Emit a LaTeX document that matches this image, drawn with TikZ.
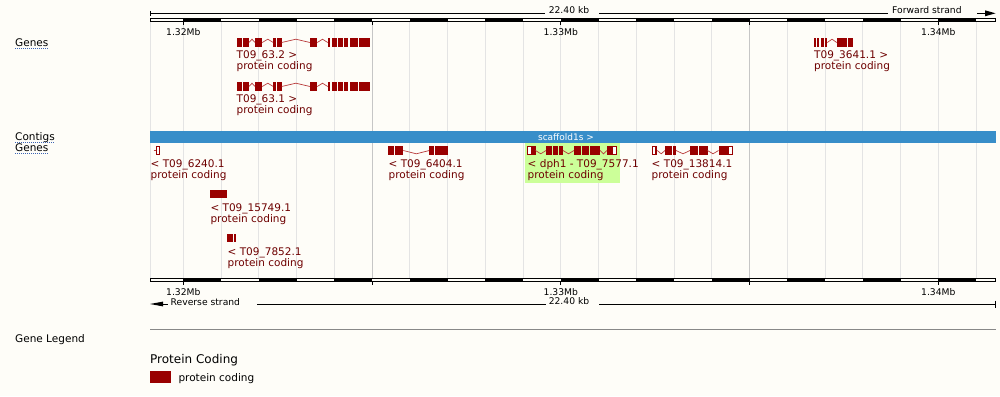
\documentclass[tikz,border=0pt]{standalone}
\usepackage{fontspec}
\setmainfont{DejaVu Sans}
\definecolor{bgc}{RGB}{254,253,248}
\definecolor{exonc}{RGB}{153,0,0}
\definecolor{labc}{RGB}{110,0,0}
\definecolor{intc}{RGB}{185,60,60}
\definecolor{gridl}{RGB}{228,228,228}
\definecolor{gridd}{RGB}{198,198,198}
\definecolor{contigc}{RGB}{56,142,201}
\definecolor{hilite}{RGB}{204,255,153}
\definecolor{ulc}{RGB}{60,100,180}
\definecolor{sepc}{RGB}{136,136,136}
\newcommand\exonbox[2]{\fill[exonc] (#1,0) rectangle (#2,8.4);}
\newcommand\utrbox[2]{\draw[utr] (#1,0.5) rectangle (#2,7.9);}
\newcommand\intronup[2]{\draw[intron] (#1,4.2) -- ({(#1+#2)/2},0.9) -- (#2,4.2);}
\newcommand\introndn[2]{\draw[intron] (#1,4.2) -- ({(#1+#2)/2},7.5) -- (#2,4.2);}
\begin{document}
\begin{tikzpicture}[x=1pt,y=-1pt,
  lab/.style={anchor=base west, inner sep=0, font=\fontsize{10.5}{12}\selectfont, text=labc},
  tracklab/.style={anchor=base west, inner sep=0, font=\fontsize{10.5}{12}\selectfont, text=black},
  scalelab/.style={anchor=base, inner sep=0, font=\fontsize{9.2}{10}\selectfont, text=black},
  utr/.style={draw=exonc, fill=white, line width=1pt},
  intron/.style={draw=intc, line width=0.7pt},
  ul/.style={draw=ulc, line width=0.8pt, dash pattern=on 1pt off 1pt}]
\fill[bgc] (0,0) rectangle (1000,396);
\useasboundingbox (0,0) rectangle (1000,396);

% grid
\draw[gridl, line width=0.8pt] (150,21.3) -- (150,278.3);
\foreach \k in {0,...,21} {
  \draw[gridl, line width=0.8pt] ({183.3+37.75*\k},21.3) -- ({183.3+37.75*\k},278.3);
}
\draw[gridd, line width=0.8pt] (372.05,21.3) -- (372.05,278.3);
\draw[gridd, line width=0.8pt] (749.55,21.3) -- (749.55,278.3);

% rulers
\foreach \yy in {18.3,278.3} {
  \draw[black, line width=0.8pt] (150.4,\yy+0.4) rectangle (995.5,\yy+3.0);
  \foreach \k in {0,2,...,20} {
    \fill[black] ({183.3+37.75*\k},\yy) rectangle ({183.3+37.75*\k+37.75},\yy+3.4);
  }
}
\foreach \xx in {183.3,372.05,560.8,749.55,938.3} {
  \draw[black, line width=0.8pt] (\xx,21.5) -- (\xx,24.6);
  \draw[black, line width=0.8pt] (\xx,281.5) -- (\xx,285);
}
\node[scalelab] (t132) at (183.3,36) {1.32Mb};
\node[scalelab] (t133) at (560.8,36) {1.33Mb};
\node[scalelab] (t134) at (938.3,36) {1.34Mb};
\node[scalelab] (b132) at (183.3,295.7) {1.32Mb};
\node[scalelab] (b133) at (560.8,295.7) {1.33Mb};
\node[scalelab] (b134) at (938.3,295.7) {1.34Mb};

% top scale line
\draw[black, line width=0.8pt] (150,11) -- (150,15.7);
\draw[black, line width=0.8pt] (150,13.3) -- (545,13.3);
\node[scalelab] (tkb) at (569,14) {22.40 kb};
\draw[black, line width=0.8pt] (599,13.3) -- (888,13.3);
\node[scalelab, anchor=base west] (fwd) at (892,14) {Forward strand};
\draw[black, line width=0.8pt] (977,13.3) -- (986,13.3);
\fill[black] (985,10.3) -- (995.5,13.3) -- (985,16.3) -- cycle;

% bottom scale line
\fill[black] (150,304) -- (163,301.6) -- (163,306.4) -- cycle;
\draw[black, line width=0.8pt] (162,304) -- (168,304);
\node[scalelab, anchor=base west] (rev) at (170.5,305) {Reverse strand};
\draw[black, line width=0.8pt] (257,304) -- (546,304);
\node[scalelab] (bkb) at (569,304.7) {22.40 kb};
\draw[black, line width=0.8pt] (599,304) -- (995.5,304);
\draw[black, line width=0.8pt] (995.5,300.5) -- (995.5,307.5);

% contig bar
\fill[contigc] (150,131) rectangle (996,142.7);
\node[anchor=base, inner sep=0, font=\fontsize{9}{10}\selectfont, text=white] (scaf) at (566,140) {scaffold1s >};

% highlight
\fill[hilite] (525,143.3) rectangle (620,182.7);

% track labels
\node[tracklab] (lg1) at (15,46) {Genes};
\draw[ul] ([yshift=-2pt]lg1.base west) -- ([yshift=-2pt]lg1.base east);
\node[tracklab] (lc) at (15,140.3) {Contigs};
\draw[ul] ([yshift=-2pt]lc.base west) -- ([yshift=-2pt]lc.base east);
\node[tracklab] (lg2) at (15,151.7) {Genes};
\draw[ul] ([yshift=-2pt]lg2.base west) -- ([yshift=-2pt]lg2.base east);

% forward genes
\begin{scope}[shift={(0,38.3)}]
\exonbox{236.7}{242.3}\exonbox{243}{249}\intronup{249}{255}\exonbox{255}{262.3}\intronup{262.3}{273.3}\exonbox{273.3}{275.7}\exonbox{276.7}{281.7}\intronup{281.7}{310}\exonbox{310}{317.3}\intronup{317.3}{327.7}\exonbox{327.7}{330.3}\exonbox{331.7}{337.3}\exonbox{338.3}{342.7}\exonbox{344}{348.3}\exonbox{350}{357.5}\exonbox{358.5}{370}
\end{scope}
\begin{scope}[shift={(0,82.3)}]
\exonbox{236.7}{242.3}\exonbox{243}{249}\intronup{249}{255}\exonbox{255}{262.3}\intronup{262.3}{273.3}\exonbox{273.3}{275.7}\exonbox{276.7}{281.7}\intronup{281.7}{310}\exonbox{310}{317.3}\intronup{317.3}{327.7}\exonbox{327.7}{330.3}\exonbox{331.7}{337.3}\exonbox{338.3}{342.7}\exonbox{344}{348.3}\exonbox{350}{357.5}\exonbox{358.5}{370}
\end{scope}
\begin{scope}[shift={(0,38.3)}]
\exonbox{814}{816}\exonbox{817.3}{819.3}\exonbox{820.7}{824}\exonbox{825}{827.3}\intronup{827.3}{836.7}\exonbox{836.7}{846.7}\exonbox{847.7}{852.7}
\end{scope}
\node[lab] (n632a) at (236.5,58.7) {T09\_63.2 >};
\node[lab] (n632b) at (236.5,69.7) {protein coding};
\node[lab] (n631a) at (236.5,102.7) {T09\_63.1 >};
\node[lab] (n631b) at (236.5,113.7) {protein coding};
\node[lab] (n3641a) at (814,58.7) {T09\_3641.1 >};
\node[lab] (n3641b) at (814,69.7) {protein coding};

% reverse genes
\begin{scope}[shift={(0,146.3)}]
\draw[intron] (153.5,4.2) -- (156.5,4.2);
\utrbox{156.5}{159.5}
\exonbox{388.3}{394}\exonbox{395}{403.3}\introndn{403.3}{429.3}\exonbox{429.3}{434.3}\exonbox{435}{447.7}
\utrbox{527.5}{531.5}\exonbox{532}{535.5}\introndn{535.5}{546}\exonbox{546}{551.5}\exonbox{552.5}{558}\exonbox{559}{563}\introndn{563}{574}\exonbox{574}{581}\exonbox{582}{589}\exonbox{590}{600}\introndn{600}{607}\exonbox{607}{611.5}\utrbox{612}{616.5}
\utrbox{652.2}{655}\exonbox{655}{657.3}\introndn{657.3}{665}\exonbox{665}{672}\exonbox{673}{676}\introndn{676}{690}\exonbox{690}{698}\exonbox{699}{707.5}\introndn{707.5}{718.5}\exonbox{718.5}{727.5}\utrbox{728}{732.8}
\end{scope}
\begin{scope}[shift={(0,190)}]
\exonbox{210}{227}
\end{scope}
\begin{scope}[shift={(0,234)}]
\exonbox{227}{233}\exonbox{234.2}{236}
\end{scope}
\node[lab] (n6240a) at (150.5,167.3) {< T09\_6240.1};
\node[lab] (n6240b) at (150.5,178.3) {protein coding};
\node[lab] (n6404a) at (388.5,167.3) {< T09\_6404.1};
\node[lab] (n6404b) at (388.5,178.3) {protein coding};
\node[lab] (n7577a) at (527.5,167.3) {< dph1 - T09\_7577.1};
\node[lab] (n7577b) at (527.5,178.3) {protein coding};
\node[lab] (n13814a) at (651.5,167.3) {< T09\_13814.1};
\node[lab] (n13814b) at (651.5,178.3) {protein coding};
\node[lab] (n15749a) at (210.3,211) {< T09\_15749.1};
\node[lab] (n15749b) at (210.3,222) {protein coding};
\node[lab] (n7852a) at (227.5,255) {< T09\_7852.1};
\node[lab] (n7852b) at (227.5,266) {protein coding};

% legend
\draw[sepc, line width=1pt] (150,329.3) -- (996,329.3);
\node[tracklab] (leg) at (15,342) {Gene Legend};
\node[anchor=base west, inner sep=0, font=\fontsize{12}{14}\selectfont] (pch) at (150,363.3) {Protein Coding};
\fill[exonc] (150,371) rectangle (171,382.7);
\node[tracklab] (pcl) at (178.3,381.7) {protein coding};
\end{tikzpicture}
\end{document}
